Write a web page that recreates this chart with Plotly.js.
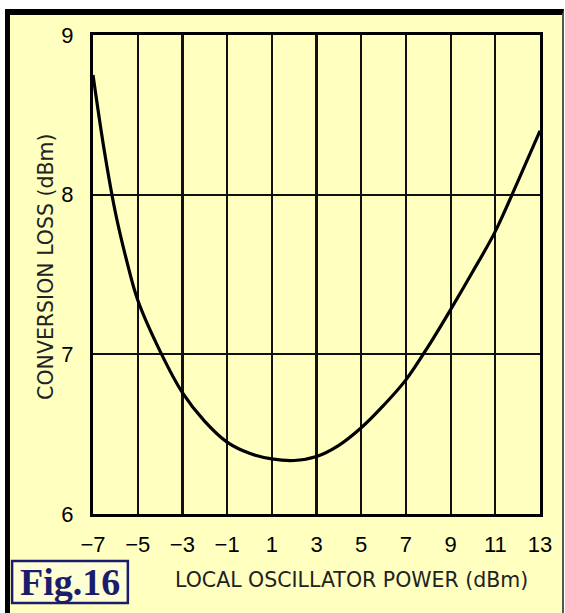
<!DOCTYPE html>
<html>
<head>
<meta charset="utf-8">
<script src="https://cdn.plot.ly/plotly-3.0.1.min.js"></script>
<style>
  html, body { margin: 0; padding: 0; background: #ffffff; }
  #frame { position: absolute; left: 5px; top: 9px; width: 552px; height: 604px;
           border-left: 5px solid #000; border-top: 6px solid #000; border-right: 2px solid #555;
           background: #FFFFC0; }
  #chart { position: absolute; left: 0; top: 0; width: 565px; height: 613px; }
</style>
</head>
<body>
<div id="frame"></div>
<div id="chart"></div>
<script>
// Local oscillator power (dBm)
const loPower = [-7, -6.5, -6, -5.5, -5, -4, -3, -2, -1, 0, 1, 2, 3, 4, 5, 6, 7, 8, 9, 10, 11, 12, 13];
// Conversion loss (dB)
const convLoss = [8.75, 8.28, 7.89, 7.59, 7.34, 7.02, 6.76, 6.58, 6.45, 6.38, 6.345, 6.335, 6.36, 6.43, 6.54, 6.68, 6.84, 7.05, 7.28, 7.52, 7.77, 8.08, 8.40];
const xTicks = [-7, -5, -3, -1, 1, 3, 5, 7, 9, 11, 13];
const yTicks = [6, 7, 8, 9];
const xTitle = 'LOCAL OSCILLATOR POWER (dBm)';
const yTitle = 'CONVERSION LOSS (dBm)';
const figLabel = 'Fig.16';

const trace = {
  x: loPower, y: convLoss, type: 'scatter', mode: 'lines',
  line: { color: '#000', width: 3.2, shape: 'spline', smoothing: 1 },
  hoverinfo: 'skip'
};

const titleFont = { family: 'DejaVu Sans', size: 20.5, color: '#222' };
const tickFont = { family: 'Liberation Sans', size: 22, color: '#000' };

const layout = {
  width: 565, height: 613,
  margin: { l: 93, r: 25, t: 35, b: 99, pad: 0 },
  paper_bgcolor: 'rgba(0,0,0,0)',
  plot_bgcolor: 'rgba(0,0,0,0)',
  showlegend: false,
  xaxis: {
    range: [-7, 13], tickvals: xTicks, ticktext: xTicks.map(v => v < 0 ? '\u2212' + Math.abs(v) : String(v)),
    showgrid: true, gridcolor: '#111', gridwidth: 2.2,
    showline: true, mirror: true, linecolor: '#000', linewidth: 3,
    ticks: '', ticklabelstandoff: 9,
    tickfont: tickFont,
    zeroline: false, fixedrange: true
  },
  yaxis: {
    range: [6, 9], tickvals: yTicks,
    showgrid: true, gridcolor: '#111', gridwidth: 2.2,
    showline: true, mirror: true, linecolor: '#000', linewidth: 3,
    ticks: '', ticklabelstandoff: 12,
    tickfont: tickFont,
    zeroline: false, fixedrange: true
  },
  shapes: [
    { type: 'rect', xref: 'paper', yref: 'paper', x0: -0.181, x1: 0.078, y0: -0.186, y1: -0.098,
      line: { color: '#1C1C6E', width: 2.5 }, fillcolor: '#FFFFD6', layer: 'above' }
  ],
  annotations: [
    { text: xTitle, xref: 'paper', yref: 'paper', x: 0.579, y: -0.138,
      xanchor: 'center', yanchor: 'middle', showarrow: false, font: titleFont },
    { text: yTitle, xref: 'paper', yref: 'paper', x: -0.105, y: 0.516, textangle: -90,
      xanchor: 'center', yanchor: 'middle', showarrow: false, font: titleFont },
    { text: '<b>' + figLabel + '</b>', xref: 'paper', yref: 'paper', x: -0.0515, y: -0.143,
      xanchor: 'center', yanchor: 'middle', showarrow: false,
      font: { family: 'Liberation Serif', size: 38, color: '#1C1C6E' } }
  ]
};

Plotly.newPlot('chart', [trace], layout, { staticPlot: true, displayModeBar: false });
</script>
</body>
</html>
